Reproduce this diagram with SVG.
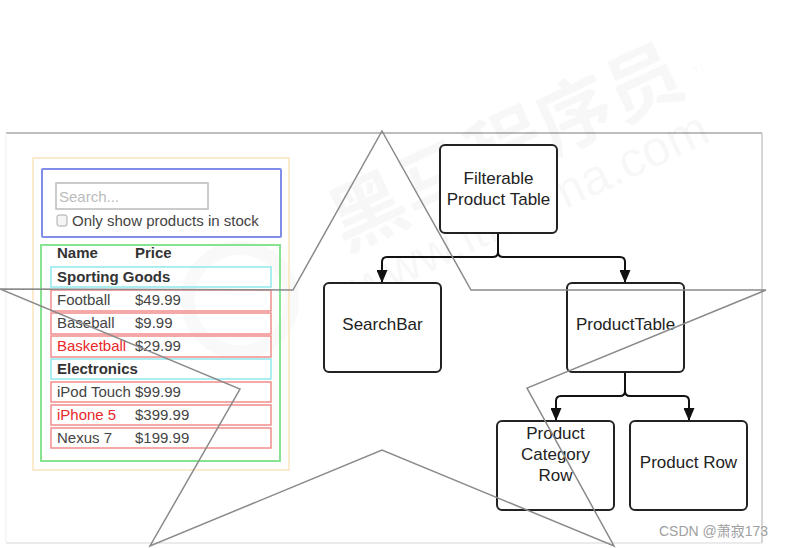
<svg xmlns="http://www.w3.org/2000/svg" width="786" height="548" viewBox="0 0 786 548">
<defs>
<marker id="ah" markerWidth="13" markerHeight="11" refX="13" refY="5.5" orient="auto" markerUnits="userSpaceOnUse" viewBox="0 0 13 11">
<path d="M0,0 L13,5.5 L0,11 Z" fill="#111"/>
</marker>
</defs>
<style>
text{font-family:"Liberation Sans",Arial,sans-serif;}
.ui{font-size:15px;fill:#444;}
.b{font-weight:bold;fill:#333;}
.red{fill:#e8272a;}
.row{fill:none;stroke:#f28c8c;stroke-width:1.5;}
.cat{fill:none;stroke:#8fe9ee;stroke-width:1.5;}
.node rect{fill:#fff;stroke:#222;stroke-width:2;}
.node text{font-size:17px;fill:#222;text-anchor:middle;}
.conn{fill:none;stroke:#111;stroke-width:2;}
.wm{fill:#000;fill-opacity:0.03;}
</style>
<rect width="786" height="548" fill="#fff"/>
<g id="frame" fill="none">
<line x1="6" y1="133" x2="762" y2="133" stroke="#bdbdbd" stroke-width="2"/>
<line x1="762" y1="133" x2="762" y2="543" stroke="#c8c8c8" stroke-width="1.5"/>
<line x1="6" y1="543" x2="762" y2="543" stroke="#e4e4e4" stroke-width="1.5"/>
<line x1="6" y1="133" x2="6" y2="543" stroke="#f0f0f0" stroke-width="1"/>
</g>
<g id="watermark">
<text class="wm" x="345" y="252" font-size="76" font-weight="bold" transform="rotate(-25 345 252)" style="font-family:'Noto Sans CJK SC',sans-serif">黑马程序员</text>
<text class="wm" x="695" y="78" font-size="15" transform="rotate(-25 695 78)">TM</text>
<text class="wm" x="360" y="305" font-size="50" transform="rotate(-25 360 305)">www.itheima.com</text>
<circle cx="240" cy="300" r="52" fill="none" stroke="#000" stroke-opacity="0.025" stroke-width="14"/>
</g>
<g id="mock">
<rect x="33" y="158" width="256" height="312" fill="none" stroke="#fbe3c0" stroke-width="1.5"/>
<rect x="42" y="169" width="239" height="68" fill="none" stroke="#7f8ee8" stroke-width="2" rx="1"/>
<rect x="56" y="183" width="152" height="26" fill="#fff" stroke="#bbb" stroke-width="1.5"/>
<text x="59" y="202" class="ui" style="fill:#bbb">Search...</text>
<rect x="57" y="215" width="10" height="11" rx="2" fill="#f4f4f4" stroke="#aaa"/>
<text x="72" y="226" class="ui">Only show products in stock</text>
<rect x="41" y="245" width="239" height="216" fill="none" stroke="#86e38f" stroke-width="2"/>
<text x="57" y="258" class="ui b">Name</text>
<text x="135" y="258" class="ui b">Price</text>
<rect x="51" y="267" width="220" height="20" class="cat"/>
<text x="57" y="282" class="ui b">Sporting Goods</text>
<rect x="51" y="290" width="220" height="21" class="row"/>
<text x="57" y="305" class="ui">Football</text><text x="135" y="305" class="ui">$49.99</text>
<rect x="51" y="313" width="220" height="21" class="row"/>
<text x="57" y="328" class="ui">Baseball</text><text x="135" y="328" class="ui">$9.99</text>
<rect x="51" y="336" width="220" height="21" class="row"/>
<text x="57" y="351" class="ui red">Basketball</text><text x="135" y="351" class="ui">$29.99</text>
<rect x="51" y="359" width="220" height="20" class="cat"/>
<text x="57" y="374" class="ui b">Electronics</text>
<rect x="51" y="382" width="220" height="20" class="row"/>
<text x="57" y="397" class="ui">iPod Touch</text><text x="135" y="397" class="ui">$99.99</text>
<rect x="51" y="405" width="220" height="20" class="row"/>
<text x="57" y="420" class="ui red">iPhone 5</text><text x="135" y="420" class="ui">$399.99</text>
<rect x="51" y="428" width="220" height="20" class="row"/>
<text x="57" y="443" class="ui">Nexus 7</text><text x="135" y="443" class="ui">$199.99</text>
</g>
<g id="connectors">
<path class="conn" d="M498,233 V252 Q498,257 493,257 H387 Q382,257 382,262 V283" marker-end="url(#ah)"/>
<path class="conn" d="M498,252 Q498,257 503,257 H620 Q625,257 625,262 V283" marker-end="url(#ah)"/>
<path class="conn" d="M625,372 V391 Q625,396 620,396 H561 Q556,396 556,401 V421" marker-end="url(#ah)"/>
<path class="conn" d="M625,391 Q625,396 630,396 H684 Q689,396 689,401 V421" marker-end="url(#ah)"/>
</g>
<g id="node-filterable" class="node">
<rect x="440" y="145" width="117" height="88" rx="5"/>
<text x="498.5" y="184">Filterable</text>
<text x="498.5" y="205">Product Table</text>
</g>
<g id="node-searchbar" class="node">
<rect x="324" y="283" width="117" height="89" rx="5"/>
<text x="382.5" y="330">SearchBar</text>
</g>
<g id="node-producttable" class="node">
<rect x="567" y="283" width="117" height="89" rx="5"/>
<text x="625.5" y="330">ProductTable</text>
</g>
<g id="node-categoryrow" class="node">
<rect x="497" y="421" width="117" height="89" rx="5"/>
<text x="555.5" y="439">Product</text>
<text x="555.5" y="460">Category</text>
<text x="555.5" y="481">Row</text>
</g>
<g id="node-productrow" class="node">
<rect x="630" y="421" width="117" height="89" rx="5"/>
<text x="688.5" y="468">Product Row</text>
</g>
<g id="star">
<polygon points="382,131 471,290 766,290 527,388 614,546 382,450 150,546 240,389 0,289 293,290" fill="none" stroke="#8a8a8a" stroke-width="1.5"/>
</g>
<text x="659" y="536" font-size="14" fill="#a0a0a0" style="font-family:'Liberation Sans','Noto Sans CJK SC',sans-serif">CSDN @萧寂173</text>
</svg>
